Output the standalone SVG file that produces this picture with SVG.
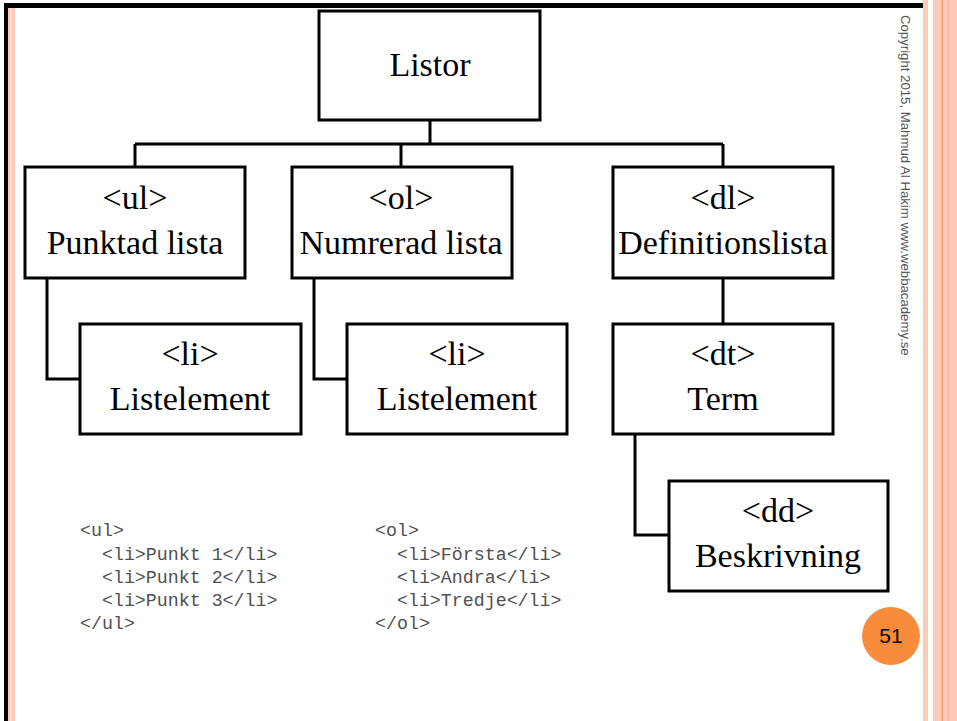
<svg xmlns="http://www.w3.org/2000/svg" width="957" height="721" viewBox="0 0 957 721">
  <style>
    .box { fill: #ffffff; stroke: #000000; stroke-width: 3; }
    .lbl { font-size: 34px; fill: #000000; text-anchor: middle; }
    .code { font-size: 18.3px; fill: #505050; white-space: pre; }
    .conn { fill: none; stroke: #000000; stroke-width: 3; }
  </style>
  <rect x="0" y="0" width="957" height="721" fill="#ffffff"/>
  <g id="decoration">
    <rect x="8" y="8" width="7" height="713" fill="#FDCBB8"/>
    <rect x="10.5" y="8" width="1.5" height="713" fill="#FFE6DC"/>
    <rect x="923" y="0" width="5" height="721" fill="#FDCBB8"/>
    <rect x="933" y="0" width="24" height="721" fill="#FDCBB8"/>
    <rect x="941.5" y="0" width="1.5" height="721" fill="#F7A06A"/>
    <rect x="947" y="0" width="3" height="721" fill="#FBC0A8"/>
    <rect x="4" y="3" width="919" height="5" fill="#000000"/>
    <rect x="4" y="3" width="4" height="718" fill="#000000"/>
  </g>
  <g id="connectors">
    <path class="conn" d="M430,120 V144 M135,144 H723 M135,144 V167 M401,144 V167 M723,144 V167"/>
    <path class="conn" d="M47,278 V379 H80"/>
    <path class="conn" d="M314,278 V379 H347"/>
    <path class="conn" d="M723,278 V324"/>
    <path class="conn" d="M635,434 V535 H669"/>
  </g>
  <g font-family="'Liberation Serif', 'Times New Roman', serif">
    <g id="listor">
      <rect class="box" x="319" y="11" width="221" height="109"/>
      <text class="lbl" x="430" y="76">Listor</text>
    </g>
    <g id="ul">
      <rect class="box" x="25" y="167" width="220" height="111"/>
      <text class="lbl" x="135" y="209">&lt;ul&gt;</text>
      <text class="lbl" x="135" y="254">Punktad lista</text>
    </g>
    <g id="ol">
      <rect class="box" x="292" y="167" width="220" height="111"/>
      <text class="lbl" x="401" y="209">&lt;ol&gt;</text>
      <text class="lbl" x="401" y="254">Numrerad lista</text>
    </g>
    <g id="dl">
      <rect class="box" x="613" y="167" width="220" height="111"/>
      <text class="lbl" x="723" y="209">&lt;dl&gt;</text>
      <text class="lbl" x="723" y="254">Definitionslista</text>
    </g>
    <g id="li1">
      <rect class="box" x="80" y="324" width="221" height="110"/>
      <text class="lbl" x="190" y="365">&lt;li&gt;</text>
      <text class="lbl" x="190" y="410">Listelement</text>
    </g>
    <g id="li2">
      <rect class="box" x="347" y="324" width="220" height="110"/>
      <text class="lbl" x="457" y="365">&lt;li&gt;</text>
      <text class="lbl" x="457" y="410">Listelement</text>
    </g>
    <g id="dt">
      <rect class="box" x="613" y="324" width="220" height="110"/>
      <text class="lbl" x="723" y="365">&lt;dt&gt;</text>
      <text class="lbl" x="723" y="410">Term</text>
    </g>
    <g id="dd">
      <rect class="box" x="669" y="481" width="219" height="110"/>
      <text class="lbl" x="778" y="522">&lt;dd&gt;</text>
      <text class="lbl" x="778" y="567">Beskrivning</text>
    </g>
  </g>
  <g font-family="'Liberation Mono', 'Courier New', monospace">
    <g id="code-ul">
      <text class="code" x="80" y="536">&lt;ul&gt;</text>
      <text class="code" x="80" y="560">  &lt;li&gt;Punkt 1&lt;/li&gt;</text>
      <text class="code" x="80" y="583">  &lt;li&gt;Punkt 2&lt;/li&gt;</text>
      <text class="code" x="80" y="606">  &lt;li&gt;Punkt 3&lt;/li&gt;</text>
      <text class="code" x="80" y="629">&lt;/ul&gt;</text>
    </g>
    <g id="code-ol">
      <text class="code" x="375" y="536">&lt;ol&gt;</text>
      <text class="code" x="375" y="560">  &lt;li&gt;Första&lt;/li&gt;</text>
      <text class="code" x="375" y="583">  &lt;li&gt;Andra&lt;/li&gt;</text>
      <text class="code" x="375" y="606">  &lt;li&gt;Tredje&lt;/li&gt;</text>
      <text class="code" x="375" y="629">&lt;/ol&gt;</text>
    </g>
  </g>
  <g id="copyright">
    <text transform="translate(901,15) rotate(90)" font-family="'Liberation Sans', Arial, sans-serif" font-size="13.2" fill="#555555">Copyright 2015, Mahmud Al Hakim www.webbacademy.se</text>
  </g>
  <g id="page-number">
    <circle cx="891" cy="636" r="29" fill="#F98B3D"/>
    <text x="891" y="643" font-family="'Liberation Sans', Arial, sans-serif" font-size="21" fill="#000000" text-anchor="middle">51</text>
  </g>
</svg>
